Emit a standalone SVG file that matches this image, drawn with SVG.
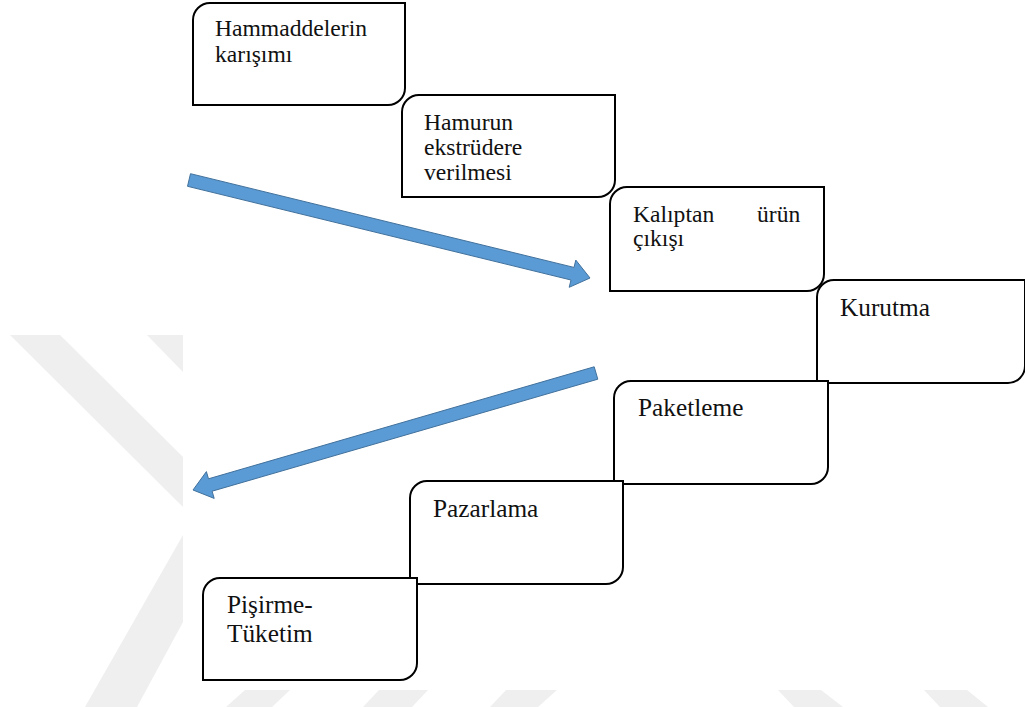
<svg xmlns="http://www.w3.org/2000/svg" width="1025" height="707" viewBox="0 0 1025 707">
<style>
.box{fill:#ffffff;stroke:#000000;stroke-width:2}
.t{font-family:"Liberation Serif","Times New Roman",serif;font-size:23.6px;fill:#111111}
.t2{font-family:"Liberation Serif","Times New Roman",serif;font-size:25.3px;fill:#111111}
.arrow{fill:#5b9bd5;stroke:#41719c;stroke-width:1}
.wm{fill:#efefef}
</style>
<rect x="0" y="0" width="1025" height="707" fill="#ffffff"/>
<g id="watermark">
<polygon class="wm" points="10,335 60,335 183,457 183,507"/>
<polygon class="wm" points="147,335 183,335 183,372"/>
<polygon class="wm" points="183,535 183,622 137,707 85,707"/>
<polygon class="wm" points="245,690 290,690 272,707 226,707"/>
<polygon class="wm" points="379,690 428,690 412,707 363,707"/>
<polygon class="wm" points="506,690 557,690 538,707 490,707"/>
<polygon class="wm" points="778,690 821,690 843,707 794,707"/>
<polygon class="wm" points="924,690 967,690 988,707 940,707"/>
</g>
<g id="n1">
<path class="box" d="M210,3 H405 V88 A17,17 0 0 1 388,105 H193 V20 A17,17 0 0 1 210,3 Z"/>
<text class="t" x="215" y="36">Hammaddelerin</text>
<text class="t" x="215" y="62">karışımı</text>
</g>
<g id="n2">
<path class="box" d="M419,95 H615 V180 A17,17 0 0 1 598,197 H402 V112 A17,17 0 0 1 419,95 Z"/>
<text class="t" x="424" y="130">Hamurun</text>
<text class="t" x="424" y="155">ekstrüdere</text>
<text class="t" x="424" y="180">verilmesi</text>
</g>
<g id="n3">
<path class="box" d="M627,187 H824 V274 A17,17 0 0 1 807,291 H610 V204 A17,17 0 0 1 627,187 Z"/>
<text class="t" x="633" y="222">Kalıptan</text>
<text class="t" x="757" y="222">ürün</text>
<text class="t" x="633" y="246">çıkışı</text>
</g>
<g id="n4">
<path class="box" d="M834,280 H1025 V366 A17,17 0 0 1 1008,383 H817 V297 A17,17 0 0 1 834,280 Z"/>
<text class="t2" x="840" y="316">Kurutma</text>
</g>
<g id="n5">
<path class="box" d="M631,381 H828 V467 A17,17 0 0 1 811,484 H614 V398 A17,17 0 0 1 631,381 Z"/>
<text class="t2" x="638" y="416">Paketleme</text>
</g>
<g id="n6">
<path class="box" d="M427,481 H623 V567 A17,17 0 0 1 606,584 H410 V498 A17,17 0 0 1 427,481 Z"/>
<text class="t2" x="433" y="517">Pazarlama</text>
</g>
<g id="n7">
<path class="box" d="M220,578 H417 V663 A17,17 0 0 1 400,680 H203 V595 A17,17 0 0 1 220,578 Z"/>
<text class="t2" x="227" y="613">Pişirme-</text>
<text class="t2" x="227" y="642">Tüketim</text>
</g>
<g id="connectors">
<polygon class="arrow" points="190.5,173.7 574,267.4 575.8,260.1 590,278 569.2,287.3 571,280 187.5,186.3"/>
<polygon class="arrow" points="594.2,366.8 208.5,478.8 206.4,471.6 193,490 214.2,498.4 212.1,491.2 597.8,379.2"/>
</g>
</svg>
